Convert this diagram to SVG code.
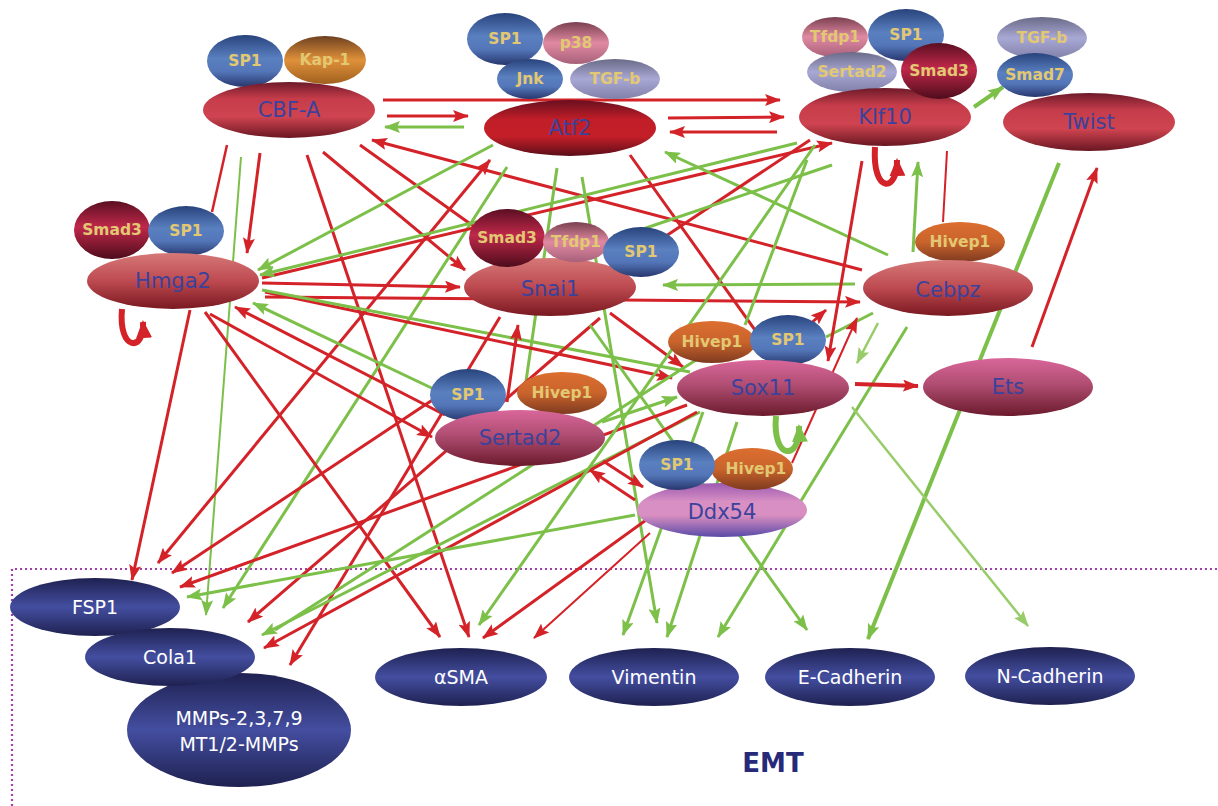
<svg xmlns="http://www.w3.org/2000/svg" width="1218" height="806" viewBox="0 0 1218 806">
<defs>
<linearGradient id="gRed" x1="0" y1="0" x2="0" y2="1"><stop offset="0" stop-color="#6e1a2a"/><stop offset="0.3" stop-color="#c63c4a"/><stop offset="0.62" stop-color="#cf4450"/><stop offset="1" stop-color="#6a1722"/></linearGradient>
<linearGradient id="gAtf" x1="0" y1="0" x2="0" y2="1"><stop offset="0" stop-color="#6a0f1e"/><stop offset="0.35" stop-color="#c01e28"/><stop offset="0.65" stop-color="#c41f28"/><stop offset="1" stop-color="#5c0d18"/></linearGradient>
<linearGradient id="gLight" x1="0" y1="0" x2="0" y2="1"><stop offset="0" stop-color="#d67878"/><stop offset="0.5" stop-color="#bd4a50"/><stop offset="1" stop-color="#7a1820"/></linearGradient>
<linearGradient id="gPink" x1="0" y1="0" x2="0" y2="1"><stop offset="0" stop-color="#d8679a"/><stop offset="0.45" stop-color="#b04d72"/><stop offset="1" stop-color="#6b1a2c"/></linearGradient>
<linearGradient id="gDdx" x1="0" y1="0" x2="0" y2="1"><stop offset="0" stop-color="#9c5ab0"/><stop offset="0.35" stop-color="#d890c4"/><stop offset="0.6" stop-color="#d88ec0"/><stop offset="1" stop-color="#5a4aa8"/></linearGradient>
<linearGradient id="gBlue" x1="0" y1="0" x2="0" y2="1"><stop offset="0" stop-color="#28437c"/><stop offset="0.45" stop-color="#5a80c0"/><stop offset="0.7" stop-color="#5376b8"/><stop offset="1" stop-color="#28376e"/></linearGradient>
<linearGradient id="gOrange" x1="0" y1="0" x2="0" y2="1"><stop offset="0" stop-color="#6e4020"/><stop offset="0.5" stop-color="#e0913a"/><stop offset="1" stop-color="#a0601e"/></linearGradient>
<linearGradient id="gHivep" x1="0" y1="0" x2="0" y2="1"><stop offset="0" stop-color="#dc6e30"/><stop offset="0.5" stop-color="#c9642c"/><stop offset="1" stop-color="#7e3a20"/></linearGradient>
<linearGradient id="gSmad3" x1="0" y1="0" x2="0" y2="1"><stop offset="0" stop-color="#5a0f22"/><stop offset="0.45" stop-color="#c0284a"/><stop offset="1" stop-color="#4e0c1c"/></linearGradient>
<linearGradient id="gPinkL" x1="0" y1="0" x2="0" y2="1"><stop offset="0" stop-color="#7a4050"/><stop offset="0.5" stop-color="#e08aa2"/><stop offset="1" stop-color="#a8607a"/></linearGradient>
<linearGradient id="gLav" x1="0" y1="0" x2="0" y2="1"><stop offset="0" stop-color="#6a6a88"/><stop offset="0.5" stop-color="#a8a8d4"/><stop offset="1" stop-color="#8080aa"/></linearGradient>
<linearGradient id="gNavy" x1="0" y1="0" x2="0" y2="1"><stop offset="0" stop-color="#1e2150"/><stop offset="0.5" stop-color="#444ea0"/><stop offset="1" stop-color="#1e2150"/></linearGradient>
<marker id="ar" markerUnits="userSpaceOnUse" markerWidth="17" markerHeight="12" refX="15" refY="6" orient="auto-start-reverse"><path d="M0,0 L16,6 L0,12 L3,6 z" fill="#d42229"/></marker>
<marker id="ag" markerUnits="userSpaceOnUse" markerWidth="17" markerHeight="12" refX="15" refY="6" orient="auto"><path d="M0,0 L16,6 L0,12 L3,6 z" fill="#7cc04a"/></marker>
<marker id="agl" markerUnits="userSpaceOnUse" markerWidth="17" markerHeight="12" refX="15" refY="6" orient="auto"><path d="M0,0 L16,6 L0,12 L3,6 z" fill="#98cc6a"/></marker>
<marker id="arL" markerUnits="userSpaceOnUse" markerWidth="20" markerHeight="16" refX="16" refY="8" orient="auto"><path d="M0,0 L18,8 L0,16 z" fill="#d42229"/></marker>
<marker id="agL" markerUnits="userSpaceOnUse" markerWidth="20" markerHeight="16" refX="16" refY="8" orient="auto"><path d="M0,0 L18,8 L0,16 z" fill="#7cc04a"/></marker>
</defs>
<style>
.r{stroke:#d42229;stroke-width:3;fill:none}
.rt{stroke:#d42229;stroke-width:2;fill:none}
.g{stroke:#7cc04a;stroke-width:3;fill:none}
.gt{stroke:#7cc04a;stroke-width:2;fill:none}
.gl{stroke:#98cc6a;stroke-width:2.5;fill:none}
.ra{marker-end:url(#ar)}
.ga{marker-end:url(#ag)}
.gla{marker-end:url(#agl)}
.lbl{font-family:"DejaVu Sans","Liberation Sans",sans-serif;text-anchor:middle;dominant-baseline:central}
.main{fill:#3a429c;font-size:21px}
.sub{fill:#e2c872;font-size:15.5px;font-weight:bold}
.out{fill:#ffffff;font-size:19px}
</style>
<rect width="1218" height="806" fill="#ffffff"/>
<path d="M12,806 V569 H1218" fill="none" stroke="#a040a8" stroke-width="2.2" stroke-dasharray="2,3"/>
<g id="connectors">
<line class="r ra" x1="383" y1="100" x2="780" y2="100"/>
<line class="r ra" x1="387" y1="116" x2="468" y2="116"/>
<line class="g ga" x1="464" y1="127" x2="385" y2="127"/>
<line class="r ra" x1="668" y1="118" x2="784" y2="117"/>
<line class="r ra" x1="777" y1="132" x2="670" y2="132"/>
<line class="g ga" style="stroke-width:4" x1="974" y1="107" x2="1003" y2="87"/>
<line class="r" style="stroke-width:2.5" x1="227" y1="145" x2="212" y2="212"/>
<line class="r ra" x1="260" y1="153" x2="247" y2="253"/>
<line class="gt ga" x1="241" y1="157" x2="206" y2="615"/>
<line class="r ra" x1="307" y1="155" x2="469" y2="637"/>
<line class="r ra" x1="323" y1="152" x2="465" y2="270"/>
<line class="r" x1="360" y1="145" x2="490" y2="238"/>
<line class="r ra" x1="862" y1="270" x2="372" y2="140"/>
<line class="g ga" x1="493" y1="145" x2="258" y2="270"/>
<line class="g ga" x1="507" y1="167" x2="223" y2="608"/>
<line class="r ra" style="marker-start:url(#ar)" x1="490" y1="160" x2="158" y2="563"/>
<line class="r" x1="630" y1="155" x2="775" y2="358"/>
<line class="g" x1="557" y1="168" x2="524" y2="395"/>
<line class="r ra" x1="262" y1="278" x2="832" y2="143"/>
<line class="r ra" x1="262" y1="283" x2="460" y2="287"/>
<line class="r ra" x1="265" y1="297" x2="860" y2="302"/>
<line class="r ra" x1="265" y1="292" x2="672" y2="378"/>
<line class="g ga" x1="797" y1="143" x2="260" y2="275"/>
<line class="g" x1="262" y1="290" x2="690" y2="372"/>
<line class="g ga" x1="602" y1="422" x2="677" y2="397"/>
<line class="g ga" x1="440" y1="392" x2="253" y2="303"/>
<line class="r ra" x1="445" y1="415" x2="235" y2="307"/>
<line class="r ra" x1="210" y1="314" x2="432" y2="437"/>
<line class="r ra" x1="190" y1="310" x2="132" y2="580"/>
<line class="r ra" x1="205" y1="312" x2="440" y2="637"/>
<line class="g ga" x1="855" y1="284" x2="663" y2="285"/>
<line class="r ra" x1="610" y1="313" x2="683" y2="367"/>
<line class="r ra" x1="507" y1="402" x2="518" y2="325"/>
<line class="r ra" x1="600" y1="318" x2="248" y2="622"/>
<line class="r ra" x1="500" y1="317" x2="290" y2="665"/>
<line class="g ga" x1="888" y1="255" x2="665" y2="152"/>
<line class="g" x1="873" y1="313" x2="826" y2="337"/>
<line class="gl gla" x1="878" y1="323" x2="857" y2="363"/>
<line class="rt ra" x1="792" y1="463" x2="857" y2="318"/>
<line class="r ra" x1="800" y1="333" x2="826" y2="310"/>
<line class="g ga" x1="907" y1="327" x2="718" y2="637"/>
<line class="g ga" style="stroke-width:4" x1="1059" y1="163" x2="868" y2="639"/>
<line class="gl gla" x1="852" y1="407" x2="1028" y2="626"/>
<line class="g ga" x1="590" y1="325" x2="807" y2="630"/>
<line class="g ga" x1="737" y1="422" x2="667" y2="637"/>
<line class="g ga" x1="703" y1="412" x2="623" y2="635"/>
<line class="g ga" x1="582" y1="177" x2="657" y2="623"/>
<line class="g" x1="807" y1="160" x2="745" y2="325"/>
<line class="g ga" x1="700" y1="412" x2="262" y2="635"/>
<line class="g" x1="735" y1="335" x2="275" y2="630"/>
<line class="r ra" x1="603" y1="461" x2="643" y2="487"/>
<line class="r ra" x1="635" y1="500" x2="590" y2="470"/>
<line class="r ra" x1="687" y1="405" x2="180" y2="587"/>
<line class="r ra" x1="697" y1="412" x2="264" y2="648"/>
<line class="r" x1="810" y1="140" x2="660" y2="240"/>
<line class="g" x1="832" y1="165" x2="640" y2="230"/>
<line class="g ga" x1="815" y1="145" x2="479" y2="625"/>
<line class="r ra" x1="700" y1="481" x2="483" y2="638"/>
<line class="rt ra" x1="650" y1="533" x2="534" y2="638"/>
<line class="g ga" x1="635" y1="515" x2="187" y2="597"/>
<line class="r ra" x1="440" y1="395" x2="172" y2="573"/>
<line class="r ra" x1="862" y1="161" x2="828" y2="361"/>
<line class="rt" x1="943" y1="222" x2="947" y2="151"/>
<line class="g ga" x1="913" y1="252" x2="918" y2="162"/>
<line class="r ra" x1="1032" y1="347" x2="1097" y2="168"/>
<line class="r ra" style="stroke-width:4" x1="855" y1="384" x2="918" y2="386"/>
<path d="M875,147 C872,195 898,192 897,160" style="stroke:#d42229;stroke-width:6;fill:none;marker-end:url(#arL)"/>
<path d="M122,309 C118,352 145,352 143,322" style="stroke:#d42229;stroke-width:6;fill:none;marker-end:url(#arL)"/>
<path d="M776,416 C772,462 801,460 799,426" style="stroke:#7cc04a;stroke-width:6;fill:none;marker-end:url(#agL)"/>
</g>
<g id="node-cbfa">
<ellipse cx="245" cy="61" rx="38" ry="26" fill="url(#gBlue)"/><text class="lbl sub" x="245" y="61">SP1</text>
<ellipse cx="325" cy="60" rx="41" ry="24" fill="url(#gOrange)"/><text class="lbl sub" x="325" y="60">Kap-1</text>
<ellipse cx="289" cy="110" rx="86" ry="28" fill="url(#gRed)"/><text class="lbl main" x="289" y="110">CBF-A</text>
</g>
<g id="node-atf2">
<ellipse cx="505" cy="39" rx="38" ry="26" fill="url(#gBlue)"/><text class="lbl sub" x="505" y="39">SP1</text>
<ellipse cx="576" cy="43" rx="33" ry="21" fill="url(#gPinkL)"/><text class="lbl sub" x="576" y="43">p38</text>
<ellipse cx="530" cy="79" rx="33" ry="20" fill="url(#gBlue)"/><text class="lbl sub" x="530" y="79">Jnk</text>
<ellipse cx="615" cy="79" rx="45" ry="20" fill="url(#gLav)"/><text class="lbl sub" x="615" y="79">TGF-b</text>
<ellipse cx="570" cy="128" rx="86" ry="28" fill="url(#gAtf)"/><text class="lbl main" x="570" y="128">Atf2</text>
</g>
<g id="node-klf10">
<ellipse cx="835" cy="37" rx="33" ry="20" fill="url(#gPinkL)"/><text class="lbl sub" x="835" y="37">Tfdp1</text>
<ellipse cx="906" cy="35" rx="38" ry="26" fill="url(#gBlue)"/><text class="lbl sub" x="906" y="35">SP1</text>
<ellipse cx="852" cy="72" rx="45" ry="20" fill="url(#gLav)"/><text class="lbl sub" x="852" y="72">Sertad2</text>
<ellipse cx="885" cy="117" rx="86" ry="29" fill="url(#gRed)"/><text class="lbl main" x="885" y="117">Klf10</text>
<ellipse cx="939" cy="71" rx="38" ry="28" fill="url(#gSmad3)"/><text class="lbl sub" x="939" y="71">Smad3</text>
</g>
<g id="node-twist">
<ellipse cx="1089" cy="122" rx="86" ry="29" fill="url(#gRed)"/><text class="lbl main" x="1089" y="122">Twist</text>
<ellipse cx="1042" cy="38" rx="45" ry="21" fill="url(#gLav)"/><text class="lbl sub" x="1042" y="38">TGF-b</text>
<ellipse cx="1035" cy="75" rx="38" ry="22" fill="url(#gBlue)"/><text class="lbl sub" x="1035" y="75">Smad7</text>
</g>
<g id="node-hmga2">
<ellipse cx="112" cy="230" rx="38" ry="29" fill="url(#gSmad3)"/><text class="lbl sub" x="112" y="230">Smad3</text>
<ellipse cx="186" cy="231" rx="38" ry="25" fill="url(#gBlue)"/><text class="lbl sub" x="186" y="231">SP1</text>
<ellipse cx="173" cy="281" rx="86" ry="28" fill="url(#gLight)"/><text class="lbl main" x="173" y="281">Hmga2</text>
</g>
<g id="node-snai1">
<ellipse cx="550" cy="287" rx="86" ry="29" fill="url(#gLight)"/><text class="lbl main" x="550" y="289">Snai1</text>
<ellipse cx="507" cy="238" rx="38" ry="29" fill="url(#gSmad3)"/><text class="lbl sub" x="507" y="238">Smad3</text>
<ellipse cx="576" cy="242" rx="33" ry="20" fill="url(#gPinkL)"/><text class="lbl sub" x="576" y="242">Tfdp1</text>
<ellipse cx="641" cy="252" rx="38" ry="25" fill="url(#gBlue)"/><text class="lbl sub" x="641" y="252">SP1</text>
</g>
<g id="node-cebpz">
<ellipse cx="960" cy="242" rx="45" ry="20" fill="url(#gHivep)"/><text class="lbl sub" x="960" y="242">Hivep1</text>
<ellipse cx="948" cy="288" rx="85" ry="28" fill="url(#gLight)"/><text class="lbl main" x="948" y="290">Cebpz</text>
</g>
<g id="node-sox11">
<ellipse cx="712" cy="342" rx="44" ry="21" fill="url(#gHivep)"/><text class="lbl sub" x="712" y="342">Hivep1</text>
<ellipse cx="788" cy="340" rx="38" ry="25" fill="url(#gBlue)"/><text class="lbl sub" x="788" y="340">SP1</text>
<ellipse cx="763" cy="388" rx="86" ry="28" fill="url(#gPink)"/><text class="lbl main" x="763" y="388">Sox11</text>
</g>
<g id="node-ets">
<ellipse cx="1008" cy="387" rx="85" ry="29" fill="url(#gPink)"/><text class="lbl main" x="1008" y="387">Ets</text>
</g>
<g id="node-sertad2">
<ellipse cx="468" cy="395" rx="38" ry="26" fill="url(#gBlue)"/><text class="lbl sub" x="468" y="395">SP1</text>
<ellipse cx="562" cy="393" rx="45" ry="21" fill="url(#gHivep)"/><text class="lbl sub" x="562" y="393">Hivep1</text>
<ellipse cx="520" cy="438" rx="85" ry="28" fill="url(#gPink)"/><text class="lbl main" x="520" y="438">Sertad2</text>
</g>
<g id="node-ddx54">
<ellipse cx="722" cy="510" rx="85" ry="27" fill="url(#gDdx)"/><text class="lbl main" x="722" y="512">Ddx54</text>
<ellipse cx="752" cy="469" rx="41" ry="21" fill="url(#gHivep)"/><text class="lbl sub" x="756" y="469">Hivep1</text>
<ellipse cx="677" cy="465" rx="38" ry="25" fill="url(#gBlue)"/><text class="lbl sub" x="677" y="465">SP1</text>
</g>
<g id="node-mmps">
<ellipse cx="239" cy="730" rx="112" ry="57" fill="url(#gNavy)"/><text class="lbl out" x="239" y="718">MMPs-2,3,7,9</text><text class="lbl out" x="239" y="744">MT1/2-MMPs</text>
</g>
<g id="node-fsp1">
<ellipse cx="95" cy="607" rx="85" ry="29" fill="url(#gNavy)"/><text class="lbl out" x="95" y="607">FSP1</text>
</g>
<g id="node-cola1">
<ellipse cx="170" cy="657" rx="85" ry="29" fill="url(#gNavy)"/><text class="lbl out" x="170" y="657">Cola1</text>
</g>
<g id="node-asma">
<ellipse cx="461" cy="677" rx="86" ry="29" fill="url(#gNavy)"/><text class="lbl out" x="461" y="677">αSMA</text>
</g>
<g id="node-vimentin">
<ellipse cx="654" cy="677" rx="85" ry="29" fill="url(#gNavy)"/><text class="lbl out" x="654" y="677">Vimentin</text>
</g>
<g id="node-ecadherin">
<ellipse cx="850" cy="677" rx="85" ry="29" fill="url(#gNavy)"/><text class="lbl out" x="850" y="677">E-Cadherin</text>
</g>
<g id="node-ncadherin">
<ellipse cx="1050" cy="676" rx="85" ry="29" fill="url(#gNavy)"/><text class="lbl out" x="1050" y="676">N-Cadherin</text>
</g>
<text x="773" y="763" class="lbl" style="fill:#262a78;font-size:26px;font-weight:bold">EMT</text>
</svg>
